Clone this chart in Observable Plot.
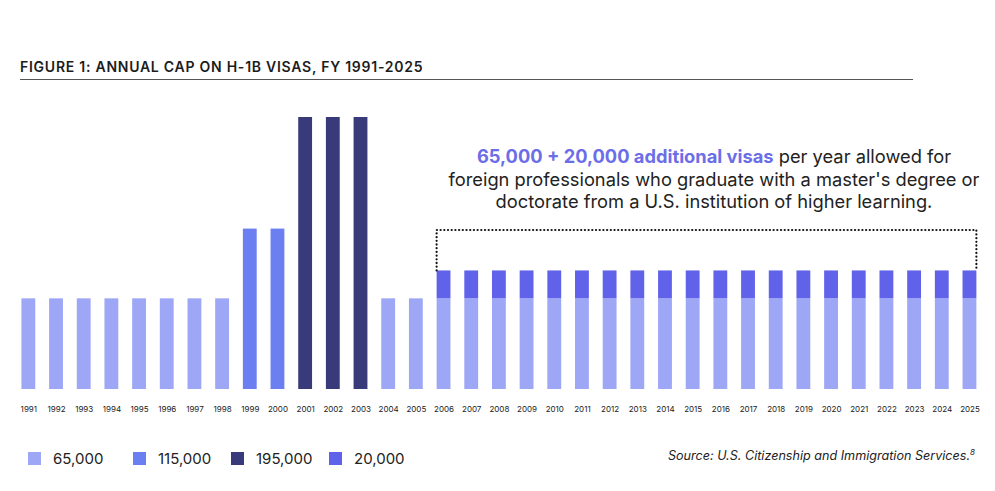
<!DOCTYPE html>
<html>
<head>
<meta charset="utf-8">
<script src="https://cdn.jsdelivr.net/npm/d3@7"></script>
<script src="https://cdn.jsdelivr.net/npm/@observablehq/plot@0.6"></script>
<style>
  html, body { margin: 0; padding: 0; background: #fff; }
  #wrap { position: relative; width: 995px; height: 491px; font-family: Inter, "Noto Sans", sans-serif; color: #1c1c1c; }
  #title { position: absolute; left: 20px; top: 58px; font-size: 14px; font-weight: 600; letter-spacing: 0.75px; white-space: nowrap; }
  #rule { position: absolute; left: 20px; top: 79px; width: 893px; border-top: 1.5px solid #555; }
  #chart { position: absolute; left: 0; top: 95px; }
  #note { position: absolute; left: 414px; width: 600px; top: 145px; text-align: center; font-size: 18.3px; line-height: 22.5px; color: #222; }
  #note b { color: #6c6ee8; font-weight: 700; }
  #legend { position: absolute; left: 28px; top: 449px; display: flex; font-size: 15px; color: #222; }
  .item { display: flex; align-items: center; margin-right: 0; }
  .sw { width: 13px; height: 13px; display: inline-block; margin-right: 12px; }
  #source { position: absolute; right: 20px; top: 447px; font-size: 12.6px; font-style: italic; color: #222; white-space: nowrap; }
  #source sup { font-size: 8px; }
</style>
</head>
<body>
<div id="wrap">
  <div id="title">FIGURE 1: ANNUAL CAP ON H-1B VISAS, FY 1991-2025</div>
  <div id="rule"></div>
  <div id="chart"></div>
  <div id="note"><b>65,000 + 20,000 additional visas</b> per year allowed for<br>foreign professionals who graduate with a master's degree or<br>doctorate from a U.S. institution of higher learning.</div>
  <div id="legend"></div>
  <div id="source">Source: U.S. Citizenship and Immigration Services.<sup>8</sup></div>
</div>
<script>
const years = ["1991","1992","1993","1994","1995","1996","1997","1998","1999","2000","2001","2002","2003","2004","2005","2006","2007","2008","2009","2010","2011","2012","2013","2014","2015","2016","2017","2018","2019","2020","2021","2022","2023","2024","2025"];
const baseCap = [65000,65000,65000,65000,65000,65000,65000,65000,115000,115000,195000,195000,195000,65000,65000,65000,65000,65000,65000,65000,65000,65000,65000,65000,65000,65000,65000,65000,65000,65000,65000,65000,65000,65000,65000];
const additional = [0,0,0,0,0,0,0,0,0,0,0,0,0,0,0,20000,20000,20000,20000,20000,20000,20000,20000,20000,20000,20000,20000,20000,20000,20000,20000,20000,20000,20000,20000];
const legendLabels = ["65,000","115,000","195,000","20,000"];
const legendColors = ["#9da7f5","#6b7ff1","#383a7a","#6063e9"];
const boxFrom = "2006", boxTo = "2025", boxTop = 114000, boxBottom = 85000;

const rows = [];
years.forEach((yr, i) => rows.push({year: yr, value: baseCap[i], cat: d3.format(",")(baseCap[i])}));
years.forEach((yr, i) => { if (additional[i] > 0) rows.push({year: yr, value: additional[i], cat: d3.format(",")(additional[i])}); });

function boxMark(index, scales) {
  const x = scales.x, y = scales.y;
  const bw = typeof x.bandwidth === "function" ? x.bandwidth() : +x.bandwidth;
  const x1 = x(boxFrom), x2 = x(boxTo) + bw;
  const yt = y(boxTop), yb = y(boxBottom);
  const g = d3.create("svg:g");
  g.append("path")
    .attr("d", `M${x1},${yb}V${yt}H${x2}V${yb}`)
    .attr("fill", "none")
    .attr("stroke", "#111")
    .attr("stroke-width", 2.2)
    .attr("stroke-linecap", "round")
    .attr("stroke-dasharray", "0.1,3.6");
  return g.node();
}

const chart = Plot.plot({
  width: 995,
  height: 330,
  marginLeft: 14.5,
  marginRight: 11.7,
  marginTop: 22,
  marginBottom: 36,
  style: {fontFamily: "Inter, 'Noto Sans', sans-serif", fontSize: "8px", color: "#222", background: "transparent", overflow: "visible"},
  x: {domain: years, paddingInner: 0.5, paddingOuter: 0.25, round: false, tickSize: 0, tickPadding: 17, label: null},
  y: {domain: [0, 195000], axis: null},
  color: {domain: legendLabels, range: legendColors},
  marks: [
    Plot.barY(rows, {x: "year", y: "value", fill: "cat", order: null}),
    boxMark
  ]
});
document.getElementById("chart").appendChild(chart);

const leg = d3.select("#legend");
const widths = [105, 98, 98, 100];
legendLabels.forEach((l, i) => {
  const it = leg.append("div").attr("class", "item").style("width", widths[i] + "px");
  it.append("span").attr("class", "sw").style("background", legendColors[i]);
  it.append("span").text(l);
});
</script>
</body>
</html>
